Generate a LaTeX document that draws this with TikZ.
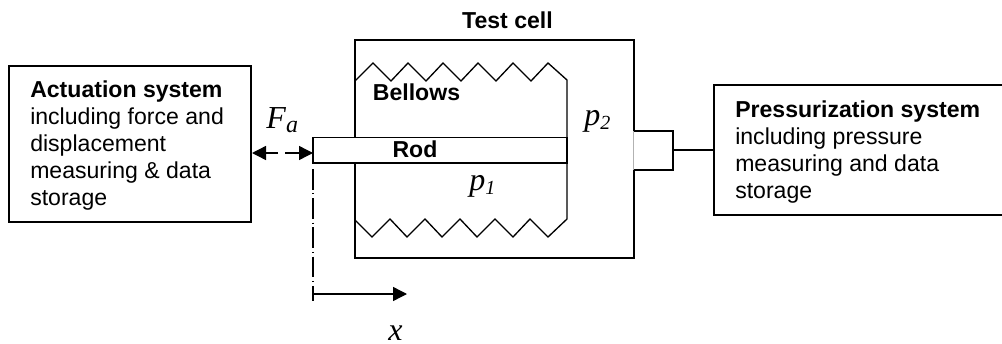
\documentclass[tikz,border=0pt]{standalone}
\usepackage{fontspec}
\setmainfont{Liberation Serif}
\setsansfont{Liberation Sans}
\usetikzlibrary{arrows.meta}
\tikzset{
 x=0.75pt,y=-0.75pt,
 ln/.style={draw=black,line width=1.05pt},
 lab/.style={font=\sffamily\fontsize{17.3}{20.25}\selectfont,inner sep=0pt,anchor=base west,align=left},
 blab/.style={font=\sffamily\bfseries\fontsize{17.3}{20.25}\selectfont,inner sep=0pt,anchor=base},
 mathlab/.style={font=\rmfamily\itshape\fontsize{24}{26}\selectfont,inner sep=0pt,anchor=base west},
 tip/.style={-{Triangle[length=10.5pt,width=10.5pt]}},
}
\begin{document}
\begin{tikzpicture}
\useasboundingbox (0,0) rectangle (1002,343);
\fill[white] (0,0) rectangle (1002,343);
% test cell
\node[ln,minimum width=279*0.75pt,minimum height=218*0.75pt,inner sep=0pt,anchor=north west,outer sep=0pt] (cell) at (355,40) {};
\node[blab] (celltitle) at (507.5,28) {Test cell};
% port
\fill[white] (633,131) rectangle (673,170);
\draw[line width=.95pt] (634,131) -- (673,131) -- (673,170) -- (634,170);
\draw[line width=.6pt,black!30] (633,131) -- (633,170);
\coordinate (portR) at (673,150);
% bellows
\draw[line width=1.0pt] (355,81)--(373,63)--(391,81)--(408,63)--(426,81)--(443,63)--(461,81)--(478,63)--(496,81)--(513,63)--(531,81)--(548,63)--(567,80)--(567,219)--(548,237)--(530,219)--(513,237)--(495,219)--(477,237)--(460,219)--(442,237)--(425,219)--(407,237)--(390,219)--(372,237)--(355,220);
% rod
\node[ln,fill=white,minimum width=254*0.75pt,minimum height=25.5*0.75pt,inner sep=0pt,anchor=north west,outer sep=0pt] (rod) at (313,137.5) {};
\node[blab] (rodlab) at (415,157.5) {Rod};
\node[blab] (bel) at (416.5,100) {Bellows};
% systems
\node[ln,minimum width=242*0.75pt,minimum height=156*0.75pt,inner sep=0pt,anchor=north west,outer sep=0pt] (act) at (9,66) {};
\node[lab] (acttext) at (30,205.5) {\textbf{Actuation system}\\including force and\\displacement\\measuring \& data\\storage};
\node[ln,minimum width=300*0.75pt,minimum height=130*0.75pt,inner sep=0pt,anchor=north west,outer sep=0pt] (press) at (714,85) {};
\node[lab] (presstext) at (735,198) {\textbf{Pressurization system}\\including pressure\\measuring and data\\storage};
\draw[line width=1.05pt] (portR) -- (portR -| press.west);
% labels
\node[mathlab] (fa) at (266,128) {F\kern.3pt\raisebox{-3pt}{\fontsize{18}{20}\selectfont a}};
\node[mathlab] (p2) at (584,125) {p\raisebox{-3pt}{\fontsize{15}{16}\selectfont 2}};
\node[mathlab] (p1) at (469,190) {p\raisebox{-3pt}{\fontsize{15}{16}\selectfont 1}};
\node[mathlab] (xl) at (388,340) {x};
% force arrows
\coordinate (fl) at (252,153);
\coordinate (fr) at (313,153);
\coordinate (flm) at (278,153);
\coordinate (frm) at (285,153);
\draw[line width=1.05pt,tip] (flm) -- (fl);
\draw[line width=1.05pt,tip] (frm) -- (fr);
% axis
\coordinate (a1) at (313,169);
\coordinate (a2) at (313,301);
\draw[line width=.9pt,dash pattern=on 15.5pt off 2.8pt on .8pt off 2.8pt] (a1) -- (a2);
\coordinate (a3) at (313,294);
\coordinate (a4) at (407,294);
\draw[line width=1.05pt,tip] (a3) -- (a4);
\end{tikzpicture}
\end{document}
